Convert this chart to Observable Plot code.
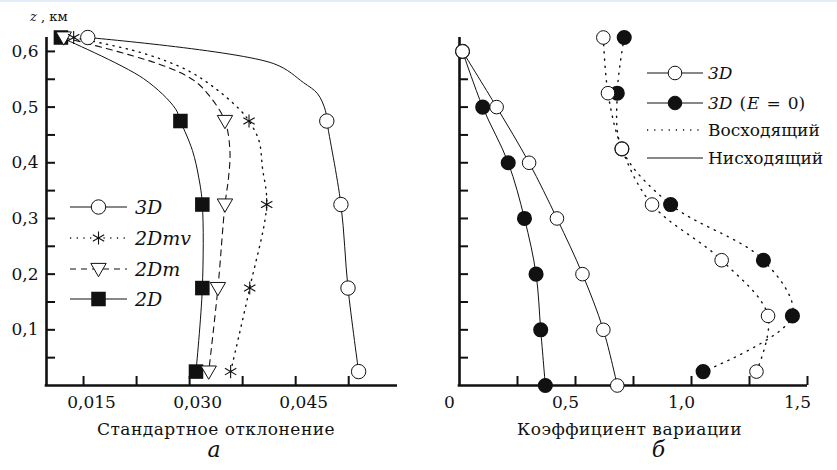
<!DOCTYPE html>
<html>
<head>
<meta charset="utf-8">
<script src="https://cdn.jsdelivr.net/npm/d3@7"></script>
<script src="https://cdn.jsdelivr.net/npm/@observablehq/plot@0.6"></script>
<style>
  body { margin: 0; background: #fff; }
  #wrap { position: relative; width: 837px; height: 470px; overflow: hidden; background: #fff; }
  .panel { position: absolute; top: 0; }
  #rim { position: absolute; left: 0; top: 0; width: 837px; height: 2px; background: #e2edf8; }
  #overlay { position: absolute; left: 0; top: 0; pointer-events: none; }
</style>
</head>
<body>
<div id="wrap"><div id="rim"></div></div>
<script>
// ---- Panel a: standard deviation vs height ----
const zLevels = [0.625, 0.475, 0.325, 0.175, 0.025];          // km
const sd3D    = [0.0156, 0.0494, 0.0514, 0.0524, 0.0539];
const sd2Dmv  = [0.0136, 0.0384, 0.0409, 0.0385, 0.0358];
const sd2Dm   = [0.0122, 0.0350, 0.0350, 0.0340, 0.0327];
const sd2D    = [0.0118, 0.0287, 0.0318, 0.0318, 0.0309];

// traced profile curves (height, value)
const curve3DZ   = [0.625, 0.578, 0.544, 0.524, 0.494, 0.475, 0.325, 0.175, 0.025];
const curve3DV   = [0.0156, 0.0419, 0.0461, 0.0481, 0.0492, 0.0494, 0.0514, 0.0524, 0.0539];
const curve2DmvZ = [0.625, 0.598, 0.566, 0.530, 0.494, 0.475, 0.440, 0.391, 0.325, 0.175, 0.025];
const curve2DmvV = [0.0136, 0.0231, 0.0297, 0.0340, 0.0372, 0.0384, 0.0398, 0.0403, 0.0409, 0.0385, 0.0358];
const curve2DmZ  = [0.625, 0.578, 0.548, 0.517, 0.475, 0.422, 0.373, 0.325, 0.175, 0.025];
const curve2DmV  = [0.0122, 0.0255, 0.0306, 0.0330, 0.0350, 0.0357, 0.0355, 0.0350, 0.0340, 0.0327];
const curve2DZ   = [0.625, 0.551, 0.497, 0.475, 0.422, 0.373, 0.325, 0.175, 0.025];
const curve2DV   = [0.0118, 0.0235, 0.0280, 0.0287, 0.0304, 0.0313, 0.0318, 0.0318, 0.0309];

// ---- Panel б: coefficient of variation ----
const zDown    = [0.6, 0.5, 0.4, 0.3, 0.2, 0.1, 0.0];
const cvDown3D = [0.013, 0.16, 0.30, 0.42, 0.53, 0.62, 0.68];
const cvDownE0 = [0.013, 0.10, 0.21, 0.28, 0.33, 0.35, 0.37];
const zUp      = [0.625, 0.525, 0.425, 0.325, 0.225, 0.125, 0.025];
const cvUp3D   = [0.62, 0.64, 0.70, 0.83, 1.13, 1.33, 1.28];
const cvUpE0   = [0.71, 0.68, 0.70, 0.91, 1.31, 1.435, 1.05];

// ticks and labels
const yMinorTicks = [0.05, 0.1, 0.15, 0.2, 0.25, 0.3, 0.35, 0.4, 0.45, 0.5, 0.55, 0.6];
const yLabelTicks = [0.1, 0.2, 0.3, 0.4, 0.5, 0.6];
const sdTicks     = [0.015, 0.0225, 0.030, 0.0375, 0.045, 0.0525];
const sdLabels    = [0.015, 0.030, 0.045];
const cvTicks     = [0.25, 0.5, 0.75, 1.0, 1.25, 1.5];
const cvLabels    = [0, 0.5, 1.0, 1.5];

const FONT = "DejaVu Serif";
const INK = "#111";
const H = 470, mT = 37, mB = 85;
const zDomain = [0, 0.625];
const sdDomain = [0.00976, 0.0594];
const cvDomain = [0, 1.5];
const TICK = 9; // inward tick length, px

const comma = s => s.replace(".", ",");
const rows = (zs, vs) => zs.map((z, i) => ({z, v: vs[i]}));

const triangleDown = {
  draw(ctx, size) {
    const r = Math.sqrt(size / Math.PI);
    ctx.moveTo(-r * 1.1, -r * 0.8);
    ctx.lineTo(r * 1.1, -r * 0.8);
    ctx.lineTo(0, r * 1.1);
    ctx.closePath();
  }
};

function frameMarks(xDomain, width, mL, mR, xTicks) {
  const pxX = (width - mL - mR) / (xDomain[1] - xDomain[0]);
  const pxY = (H - mT - mB) / (zDomain[1] - zDomain[0]);
  return [
    Plot.ruleY(yMinorTicks, {x1: xDomain[0], x2: xDomain[0] + TICK / pxX, stroke: INK, strokeWidth: 2}),
    Plot.ruleX(xTicks, {y1: 0, y2: TICK / pxY, stroke: INK, strokeWidth: 2}),
    Plot.ruleX([xDomain[0]], {y1: 0, y2: zDomain[1], stroke: INK, strokeWidth: 2.6}),
    Plot.ruleY([0], {x1: xDomain[0] - 1.3 / pxX, x2: xDomain[1], stroke: INK, strokeWidth: 2.6})
  ];
}

// ---------- left panel ----------
const W1 = 420, mL1 = 46, mR1 = 23;
const left = Plot.plot({
  width: W1, height: H,
  marginLeft: mL1, marginRight: mR1, marginTop: mT, marginBottom: mB,
  x: {domain: sdDomain, axis: null},
  y: {domain: zDomain, axis: null},
  style: {fontFamily: FONT, color: INK, background: "transparent", overflow: "visible"},
  marks: [
    ...frameMarks(sdDomain, W1, mL1, mR1, sdTicks),
    Plot.axisX({ticks: sdLabels, tickSize: 0, tickPadding: 10, dx: 8, fontSize: 17,
      tickFormat: d => comma(d.toFixed(3)), label: null}),
    Plot.axisY({ticks: yLabelTicks, tickSize: 0, tickPadding: 8, fontSize: 17,
      tickFormat: d => comma(d.toFixed(1)), label: null}),
    Plot.text(["Стандартное отклонение"], {text: d => d, frameAnchor: "bottom", dy: 49, dx: -6,
      fontSize: 17, fill: INK}),
    Plot.text(["а"], {text: d => d, frameAnchor: "bottom", dy: 71, dx: -8,
      fontSize: 22, fontStyle: "italic", fill: INK}),
    Plot.line(rows(curve2DZ, curve2DV), {x: "v", y: "z", curve: "catmull-rom", stroke: INK, strokeWidth: 1}),
    Plot.line(rows(curve2DmZ, curve2DmV), {x: "v", y: "z", curve: "catmull-rom", stroke: INK, strokeWidth: 1.1, strokeDasharray: "6,5"}),
    Plot.line(rows(curve2DmvZ, curve2DmvV), {x: "v", y: "z", curve: "catmull-rom", stroke: INK, strokeWidth: 1.4, strokeDasharray: "1.2,5.5"}),
    Plot.line(rows(curve3DZ, curve3DV), {x: "v", y: "z", curve: "catmull-rom", stroke: INK, strokeWidth: 1}),
    Plot.dot(rows(zLevels, sd2D), {x: "v", y: "z", symbol: "square", r: 8.2, fill: INK, stroke: "none"}),
    Plot.dot(rows(zLevels, sd2Dm), {x: "v", y: "z", symbol: triangleDown, r: 7, fill: "white", stroke: INK, strokeWidth: 1}),
    Plot.dot(rows(zLevels, sd2Dmv), {x: "v", y: "z", symbol: "asterisk", r: 6.2, stroke: INK, strokeWidth: 1.1}),
    Plot.dot(rows(zLevels, sd3D), {x: "v", y: "z", symbol: "circle", r: 7.2, fill: "white", stroke: INK, strokeWidth: 1})
  ]
});
left.classList.add("panel");
left.style.left = "0px";

// ---------- right panel ----------
const W2 = 417, mL2 = 39, mR2 = 30;
const right = Plot.plot({
  width: W2, height: H,
  marginLeft: mL2, marginRight: mR2, marginTop: mT, marginBottom: mB,
  x: {domain: cvDomain, axis: null},
  y: {domain: zDomain, axis: null},
  style: {fontFamily: FONT, color: INK, background: "transparent", overflow: "visible"},
  marks: [
    ...frameMarks(cvDomain, W2, mL2, mR2, cvTicks),
    Plot.axisX({ticks: cvLabels, tickSize: 0, tickPadding: 10, dx: -10, fontSize: 17,
      tickFormat: d => d === 0 ? "0" : comma(d.toFixed(1)), label: null}),
    Plot.text(["Коэффициент вариации"], {text: d => d, frameAnchor: "bottom", dy: 49, dx: -4,
      fontSize: 17, fill: INK}),
    Plot.text(["б"], {text: d => d, frameAnchor: "bottom", dy: 71, dx: 25,
      fontSize: 22, fontStyle: "italic", fill: INK}),
    Plot.line(rows(zDown, cvDown3D), {x: "v", y: "z", curve: "catmull-rom", stroke: INK, strokeWidth: 1}),
    Plot.line(rows(zDown, cvDownE0), {x: "v", y: "z", curve: "catmull-rom", stroke: INK, strokeWidth: 1}),
    Plot.line(rows(zUp, cvUp3D), {x: "v", y: "z", curve: "catmull-rom", stroke: INK, strokeWidth: 1.4, strokeDasharray: "1.2,6"}),
    Plot.line(rows(zUp, cvUpE0), {x: "v", y: "z", curve: "catmull-rom", stroke: INK, strokeWidth: 1.4, strokeDasharray: "1.2,6"}),
    Plot.dot(rows(zDown, cvDownE0), {x: "v", y: "z", r: 6.8, fill: INK, stroke: INK}),
    Plot.dot(rows(zUp, cvUpE0), {x: "v", y: "z", r: 6.8, fill: INK, stroke: INK}),
    Plot.dot(rows(zDown, cvDown3D), {x: "v", y: "z", r: 6.8, fill: "white", stroke: INK, strokeWidth: 1}),
    Plot.dot(rows(zUp, cvUp3D), {x: "v", y: "z", r: 6.8, fill: "white", stroke: INK, strokeWidth: 1})
  ]
});
right.classList.add("panel");
right.style.left = "420px";

// axis titles are set slightly spaced out
for (const p of [left, right]) {
  d3.select(p).selectAll("text")
    .filter(function () { return /отклонение|вариации/.test(this.textContent); })
    .attr("letter-spacing", 0.5);
}

const wrap = document.getElementById("wrap");
wrap.appendChild(left);
wrap.appendChild(right);

// ---------- legends and axis caption ----------
const svg = d3.select(wrap).append("svg")
  .attr("id", "overlay").attr("width", 837).attr("height", 470)
  .attr("font-family", FONT).attr("fill", INK);

const sym = (type, r) => d3.symbol(type, Math.PI * r * r)();

function entry(g, y, x0, x1, dash, strokeWidth, marker) {
  g.append("line").attr("x1", x0).attr("x2", x1).attr("y1", y).attr("y2", y)
    .attr("stroke", INK).attr("stroke-width", strokeWidth)
    .attr("stroke-dasharray", dash);
  if (marker) {
    g.append("path").attr("d", sym(marker.type, marker.r))
      .attr("transform", `translate(${(x0 + x1) / 2},${y})`)
      .attr("fill", marker.fill).attr("stroke", marker.stroke || INK)
      .attr("stroke-width", marker.sw || 1);
  }
}

// panel a legend
const la = svg.append("g");
const laItems = [
  {y: 207, label: "3D", dash: null, sw: 1, marker: {type: d3.symbolCircle, r: 7.2, fill: "white"}},
  {y: 238, label: "2Dmv", dash: "1.2,5.5", sw: 1.4, marker: {type: d3.symbolAsterisk, r: 6.2, fill: "none", sw: 1.1}},
  {y: 269, label: "2Dm", dash: "6,5", sw: 1.1, marker: {type: triangleDown, r: 7, fill: "white"}},
  {y: 299, label: "2D", dash: null, sw: 1, marker: {type: d3.symbolSquare, r: 8.2, fill: INK, stroke: "none"}}
];
for (const it of laItems) {
  entry(la, it.y, 70, 127, it.dash, it.sw, it.marker);
  la.append("text").attr("x", 135).attr("y", it.y).attr("dy", "0.35em")
    .attr("font-size", 19).attr("font-style", "italic").text(it.label);
}

// panel б legend
const lb = svg.append("g");
const lbItems = [
  {y: 73, dash: null, sw: 1, marker: {type: d3.symbolCircle, r: 6.8, fill: "white"}},
  {y: 103, dash: null, sw: 1, marker: {type: d3.symbolCircle, r: 6.8, fill: INK}},
  {y: 130, dash: "1.2,6", sw: 1.4, marker: null},
  {y: 158, dash: null, sw: 1, marker: null}
];
for (const it of lbItems) entry(lb, it.y, 647, 703, it.dash, it.sw, it.marker);

const t1 = lb.append("text").attr("x", 708).attr("y", 73).attr("dy", "0.35em").attr("font-size", 17);
t1.append("tspan").attr("font-style", "italic").text("3D");
const t2 = lb.append("text").attr("x", 708).attr("y", 103).attr("dy", "0.35em").attr("font-size", 17);
t2.append("tspan").attr("font-style", "italic").text("3D");
t2.append("tspan").attr("dx", 7).text("(");
t2.append("tspan").attr("dx", 1).attr("font-style", "italic").text("E");
t2.append("tspan").attr("dx", 7).text("=");
t2.append("tspan").attr("dx", 7).text("0)");
lb.append("text").attr("x", 708).attr("y", 130).attr("dy", "0.35em").attr("font-size", 17).text("Восходящий");
lb.append("text").attr("x", 708).attr("y", 158).attr("dy", "0.35em").attr("font-size", 17).text("Нисходящий");

// height caption of panel a
const zc = svg.append("text").attr("x", 30).attr("y", 21).attr("font-size", 13);
zc.append("tspan").attr("font-style", "italic").text("z");
zc.append("tspan").text(" , км");
</script>
</body>
</html>
